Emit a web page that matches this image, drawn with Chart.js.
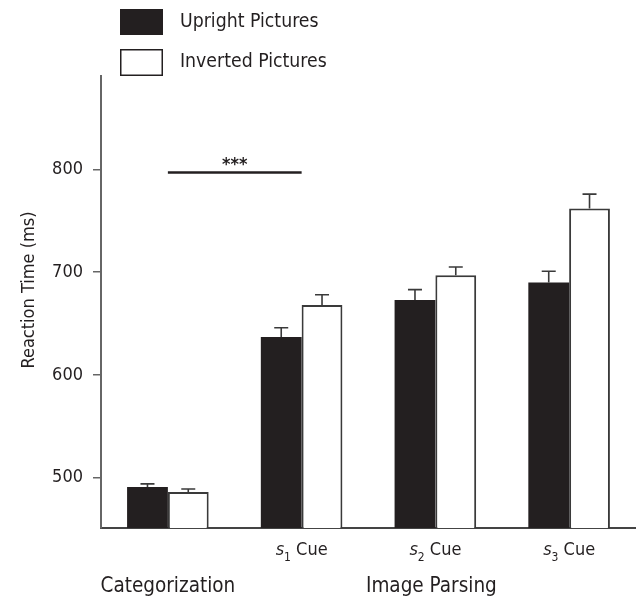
<!DOCTYPE html>
<html>
<head>
<meta charset="utf-8">
<script src="https://cdn.jsdelivr.net/npm/chart.js@4/dist/chart.umd.min.js"></script>
<style>
  html, body { margin: 0; padding: 0; background: #fff; }
  #wrap { width: 636px; height: 598px; }
</style>
</head>
<body>
<div id="wrap"><canvas id="c" width="636" height="598"></canvas></div>
<script>
// ---- Data ----
const conditions = ['Categorization', 's1 Cue', 's2 Cue', 's3 Cue'];
const cueSubscripts = [null, '1', '2', '3'];
const seriesNames = ['Upright Pictures', 'Inverted Pictures'];
const upright = [491, 637, 673, 690];
const uprightErr = [3, 9, 10, 11];
const inverted = [486, 668, 697, 762];
const invertedErr = [3, 10, 8, 14];
const yTicks = [500, 600, 700, 800];
const yTitle = 'Reaction Time (ms)';
const groupLabels = [
  { text: 'Categorization', at: 0 },
  { text: 'Image Parsing', at: 1.97 }
];
const significance = { from: 0, to: 1, value: 797, label: '***' };

// ---- Styles ----
const FONT = '"Liberation Sans Narrow", "Arial Narrow", "DejaVu Sans Condensed", sans-serif';
const INK = '#231f20';
const AXIS = '#666';

const errorBars = {
  id: 'errorBars',
  afterDatasetsDraw(chart) {
    const ctx = chart.ctx;
    const ys = chart.scales.y;
    const errs = [uprightErr, invertedErr];
    chart.data.datasets.forEach((ds, di) => {
      const meta = chart.getDatasetMeta(di);
      meta.data.forEach((bar, i) => {
        const top = ys.getPixelForValue(ds.data[i]);
        const tip = ys.getPixelForValue(ds.data[i] + errs[di][i]);
        ctx.save();
        ctx.strokeStyle = '#3a3a3a';
        ctx.lineWidth = 1.6;
        ctx.beginPath();
        ctx.moveTo(bar.x, top);
        ctx.lineTo(bar.x, tip);
        ctx.moveTo(bar.x - 7, tip);
        ctx.lineTo(bar.x + 7, tip);
        ctx.stroke();
        ctx.restore();
      });
    });
  }
};

const decorations = {
  id: 'decorations',
  afterDraw(chart) {
    const ctx = chart.ctx;
    const xs = chart.scales.x;
    const ys = chart.scales.y;
    ctx.save();
    ctx.fillStyle = INK;

    // Legend
    ctx.fillRect(120, 9, 43, 26);
    ctx.strokeStyle = INK;
    ctx.lineWidth = 1.5;
    ctx.strokeRect(120.75, 49.75, 41.5, 25.5);
    ctx.font = '19.3px ' + FONT;
    ctx.textAlign = 'left';
    ctx.textBaseline = 'middle';
    ctx.fillText(seriesNames[0], 180, 22);
    ctx.fillText(seriesNames[1], 180, 62);

    // Y title
    ctx.save();
    ctx.translate(29, 290);
    ctx.rotate(-Math.PI / 2);
    ctx.textAlign = 'center';
    ctx.textBaseline = 'middle';
    ctx.font = '18px ' + FONT;
    ctx.fillText(yTitle, 0, 0);
    ctx.restore();

    // X tick labels with italic s and subscript
    ctx.textBaseline = 'alphabetic';
    ctx.textAlign = 'left';
    cueSubscripts.forEach((sub, i) => {
      if (!sub) return;
      const cx = xs.getPixelForValue(i);
      const base = 555;
      ctx.font = 'italic 18px ' + FONT;
      const w1 = ctx.measureText('s').width;
      ctx.font = '12px ' + FONT;
      const w2 = ctx.measureText(sub).width;
      ctx.font = '18px ' + FONT;
      const w3 = ctx.measureText(' Cue').width;
      let x = cx - (w1 + w2 + w3) / 2;
      ctx.font = 'italic 18px ' + FONT;
      ctx.fillText('s', x, base); x += w1;
      ctx.font = '12px ' + FONT;
      ctx.fillText(sub, x, base + 6); x += w2;
      ctx.font = '18px ' + FONT;
      ctx.fillText(' Cue', x, base);
    });

    // Group labels
    ctx.textAlign = 'center';
    ctx.font = '20.5px ' + FONT;
    groupLabels.forEach(g => {
      const gx = xs.left + (g.at + 0.5) * (xs.width / conditions.length);
      ctx.fillText(g.text, gx, 592);
    });

    // Significance bar
    const x1 = xs.getPixelForValue(significance.from);
    const x2 = xs.getPixelForValue(significance.to);
    const sy = ys.getPixelForValue(significance.value);
    ctx.strokeStyle = INK;
    ctx.lineWidth = 2.5;
    ctx.beginPath();
    ctx.moveTo(x1, sy);
    ctx.lineTo(x2, sy);
    ctx.stroke();
    ctx.font = 'bold 18px ' + FONT;
    ctx.textAlign = 'center';
    ctx.fillText(significance.label, (x1 + x2) / 2, sy - 3);
    ctx.restore();
  }
};

new Chart(document.getElementById('c'), {
  type: 'bar',
  data: {
    labels: conditions,
    datasets: [
      {
        label: seriesNames[0],
        data: upright,
        backgroundColor: INK,
        borderColor: INK,
        borderWidth: 0
      },
      {
        label: seriesNames[1],
        data: inverted,
        backgroundColor: '#ffffff',
        borderColor: '#3a3a3a',
        borderWidth: 2,
        borderSkipped: 'bottom'
      }
    ]
  },
  options: {
    responsive: false,
    animation: false,
    devicePixelRatio: 1,
    layout: { padding: { top: 76, left: 0, right: 0, bottom: 0 } },
    datasets: { bar: { barPercentage: 1, categoryPercentage: 0.61 } },
    plugins: { legend: { display: false }, tooltip: { enabled: false } },
    scales: {
      x: {
        grid: { display: false },
        border: { display: true, color: '#444', width: 2 },
        ticks: { display: false },
        afterFit(s) { s.height = 70; }
      },
      y: {
        min: 451,
        max: 891,
        afterBuildTicks(s) { s.ticks = yTicks.map(v => ({ value: v })); },
        grid: { display: true, drawOnChartArea: false, drawTicks: true, tickLength: 8, color: AXIS, lineWidth: 1.5 },
        border: { display: true, color: AXIS, width: 2 },
        ticks: { color: INK, padding: 10, font: { family: FONT, size: 18 } },
        afterFit(s) { s.width = 101; }
      }
    }
  },
  plugins: [errorBars, decorations]
});
</script>
</body>
</html>
